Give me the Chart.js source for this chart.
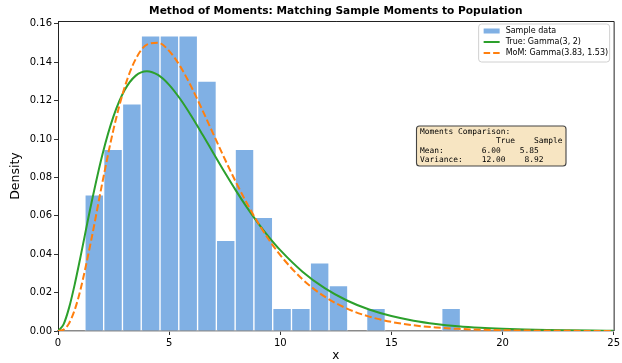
<!DOCTYPE html>
<html>
<head>
<meta charset="utf-8">
<script src="https://cdn.jsdelivr.net/npm/chart.js@4/dist/chart.umd.min.js"></script>
<style>
  html, body { margin: 0; padding: 0; background: #fff; }
  canvas { display: block; }
</style>
</head>
<body>
<canvas id="c" width="622" height="363"></canvas>
<script>
// ---- Data ----
const titleText = "Method of Moments: Matching Sample Moments to Population";
const binEdges = [1.21, 2.055, 2.90, 3.745, 4.59, 5.435, 6.28, 7.125, 7.97, 8.815, 9.66,
                  10.505, 11.35, 12.195, 13.04, 13.885, 14.73, 15.575, 16.42, 17.265, 18.11];
const sampleDensity = [0.0710, 0.0947, 0.1183, 0.1538, 0.1538, 0.1538, 0.1302, 0.0473, 0.0947, 0.0592,
                       0.0118, 0.0118, 0.0355, 0.0237, 0, 0.0118, 0, 0, 0, 0.0118];
const curveX = [0, 0.25, 0.5, 0.75, 1, 1.5, 2, 2.5, 3, 3.5, 4, 4.5, 5, 5.5, 6, 6.5, 7, 7.5, 8, 8.5,
                9, 9.5, 10, 11, 12, 13, 14, 15, 16, 17, 18, 19, 20, 21, 22, 23, 24, 25];
const trueGamma = [0, 0.00345, 0.01217, 0.02416, 0.03791, 0.06643, 0.09197, 0.11191, 0.12551, 0.13304,
                   0.13534, 0.13340, 0.12825, 0.12086, 0.11202, 0.10239, 0.09248, 0.08268, 0.07326, 0.06441,
                   0.05624, 0.04880, 0.04211, 0.03091, 0.02231, 0.01588, 0.01117, 0.00778, 0.00537, 0.00368,
                   0.00250, 0.00169, 0.00114, 0.00076, 0.00050, 0.00034, 0.00022, 0.00015];
const momGamma = [0, 0.00068, 0.00409, 0.01094, 0.02097, 0.04763, 0.07755, 0.10516, 0.12705, 0.14176,
                  0.14920, 0.15018, 0.14594, 0.13785, 0.12716, 0.11503, 0.10233, 0.08972, 0.07768, 0.06651,
                  0.05639, 0.04739, 0.03951, 0.02692, 0.01791, 0.01169, 0.00750, 0.00474, 0.00296, 0.00183,
                  0.00112, 0.00068, 0.00041, 0.00024, 0.00014, 0.000085, 0.00005, 0.00003];
const seriesLabels = ["Sample data", "True: Gamma(3, 2)", "MoM: Gamma(3.83, 1.53)"];
const xTicks = [0, 5, 10, 15, 20, 25];
const yTicks = [0.00, 0.02, 0.04, 0.06, 0.08, 0.10, 0.12, 0.14, 0.16];
const boxLines = [
  "Moments Comparison:",
  "                True    Sample",
  "Mean:        6.00    5.85",
  "Variance:    12.00    8.92"
];

// ---- Styles ----
const barColor = "rgb(128,176,228)";
const green = "#2ca02c";
const orange = "#ff7f0e";
const dash = [7, 3];

const barData = [];
for (let i = 0; i < sampleDensity.length; i++) {
  if (sampleDensity[i] > 0) barData.push({ x: (binEdges[i] + binEdges[i + 1]) / 2, y: sampleDensity[i] });
}
const trueData = curveX.map((x, i) => ({ x, y: trueGamma[i] }));
const momData = curveX.map((x, i) => ({ x, y: momGamma[i] }));

const overlay = {
  id: "overlay",
  afterDraw(chart) {
    const ctx = chart.ctx;
    const a = chart.chartArea;
    ctx.save();
    // top & right spines
    ctx.strokeStyle = "#222";
    ctx.lineWidth = 1;
    ctx.beginPath();
    ctx.moveTo(a.left, a.top + 0.5);
    ctx.lineTo(a.right + 0.5, a.top + 0.5);
    ctx.lineTo(a.right + 0.5, a.bottom);
    ctx.stroke();

    // title
    ctx.fillStyle = "#000";
    ctx.font = "bold 10.6px 'DejaVu Sans'";
    ctx.textAlign = "center";
    ctx.textBaseline = "middle";
    ctx.fillText(titleText, (a.left + a.right) / 2, 11);

    // legend
    const lx = a.right - 135, ly = a.top + 3, lw = 131, lh = 38;
    roundRect(ctx, lx, ly, lw, lh, 3);
    ctx.fillStyle = "rgba(255,255,255,0.85)";
    ctx.fill();
    ctx.strokeStyle = "#d0d0d0";
    ctx.lineWidth = 1;
    ctx.stroke();
    const hx = lx + 5, hw = 16, tx = lx + 27;
    const rows = [ly + 7, ly + 18, ly + 29];
    ctx.fillStyle = barColor;
    ctx.fillRect(hx, rows[0] - 2.5, hw, 5);
    ctx.lineWidth = 2;
    ctx.strokeStyle = green;
    ctx.setLineDash([]);
    ctx.beginPath(); ctx.moveTo(hx, rows[1]); ctx.lineTo(hx + hw, rows[1]); ctx.stroke();
    ctx.strokeStyle = orange;
    ctx.setLineDash([6.5, 3]);
    ctx.beginPath(); ctx.moveTo(hx, rows[2]); ctx.lineTo(hx + hw, rows[2]); ctx.stroke();
    ctx.setLineDash([]);
    ctx.fillStyle = "#000";
    ctx.font = "8px 'DejaVu Sans'";
    ctx.textAlign = "left";
    ctx.textBaseline = "middle";
    seriesLabels.forEach((t, i) => ctx.fillText(t, tx, rows[i]));

    // moments text box
    const bx = 416.5, by = 126, bw = 149.5, bh = 40;
    roundRect(ctx, bx, by, bw, bh, 3);
    ctx.fillStyle = "rgba(245,222,179,0.8)";
    ctx.fill();
    ctx.strokeStyle = "#444";
    ctx.lineWidth = 1.1;
    ctx.stroke();
    ctx.fillStyle = "#000";
    ctx.font = "7.9px 'DejaVu Sans Mono'";
    ctx.textBaseline = "middle";
    boxLines.forEach((t, i) => ctx.fillText(t, bx + 3.5, by + 6 + i * 9.3));
    ctx.restore();
  }
};

function roundRect(ctx, x, y, w, h, r) {
  ctx.beginPath();
  ctx.moveTo(x + r, y);
  ctx.lineTo(x + w - r, y);
  ctx.quadraticCurveTo(x + w, y, x + w, y + r);
  ctx.lineTo(x + w, y + h - r);
  ctx.quadraticCurveTo(x + w, y + h, x + w - r, y + h);
  ctx.lineTo(x + r, y + h);
  ctx.quadraticCurveTo(x, y + h, x, y + h - r);
  ctx.lineTo(x, y + r);
  ctx.quadraticCurveTo(x, y, x + r, y);
  ctx.closePath();
}

new Chart(document.getElementById("c"), {
  type: "bar",
  data: {
    datasets: [
      {
        type: "line", label: seriesLabels[2], data: momData, order: 0,
        borderColor: orange, borderWidth: 2, borderDash: dash, pointRadius: 0,
        cubicInterpolationMode: "monotone", fill: false
      },
      {
        type: "line", label: seriesLabels[1], data: trueData, order: 1,
        borderColor: green, borderWidth: 2, pointRadius: 0,
        cubicInterpolationMode: "monotone", fill: false
      },
      {
        type: "bar", label: seriesLabels[0], data: barData, order: 2,
        backgroundColor: barColor, borderColor: "#ffffff", borderWidth: 1,
        borderSkipped: "bottom", barPercentage: 1, categoryPercentage: 1
      }
    ]
  },
  options: {
    responsive: false,
    animation: false,
    devicePixelRatio: 1,
    layout: { padding: { top: 21, right: 8, left: 0, bottom: 0 } },
    plugins: { legend: { display: false }, tooltip: { enabled: false }, title: { display: false } },
    scales: {
      x: {
        type: "linear", min: 0, max: 25, offset: false,
        afterBuildTicks: s => { s.ticks = xTicks.map(v => ({ value: v })); },
        afterFit: s => { s.height = 32; },
        ticks: { color: "#000", font: { family: "'DejaVu Sans'", size: 10 }, padding: 2, maxRotation: 0,
                 callback: v => String(v) },
        grid: { display: true, drawOnChartArea: false, drawTicks: true, tickLength: 4, color: "#333", offset: false },
        border: { display: true, color: "#8a8a8a", width: 1.6 },
        title: { display: true, text: "x", color: "#000", font: { family: "'DejaVu Sans'", size: 12 },
                 padding: { top: 0, bottom: 0 } }
      },
      y: {
        type: "linear", min: 0, max: 0.1615,
        afterBuildTicks: s => { s.ticks = yTicks.map(v => ({ value: v })); },
        afterFit: s => { s.width = 58; },
        ticks: { color: "#000", font: { family: "'DejaVu Sans'", size: 10 }, padding: 2,
                 callback: v => Number(v).toFixed(2) },
        grid: { display: true, drawOnChartArea: false, drawTicks: true, tickLength: 4, color: "#333" },
        border: { display: true, color: "#222", width: 1 },
        title: { display: true, text: "Density", color: "#000", font: { family: "'DejaVu Sans'", size: 12.5 },
                 padding: { top: 8, bottom: 0 } }
      }
    }
  },
  plugins: [overlay]
});
</script>
</body>
</html>
